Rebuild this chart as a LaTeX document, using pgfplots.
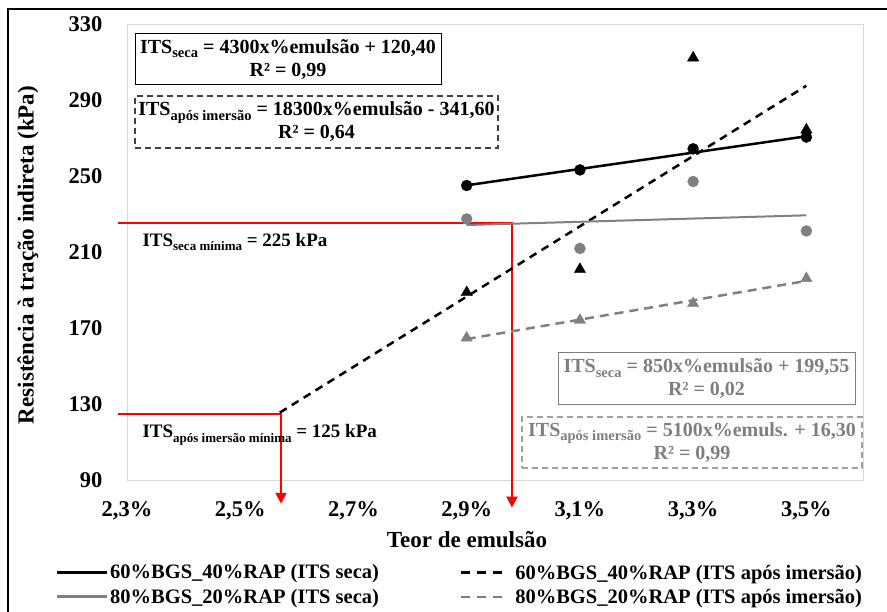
\documentclass[border=0pt]{standalone}
\usepackage{pgfplots}
\pgfplotsset{compat=1.18}
\usepackage{fontspec}
\setmainfont{Liberation Serif}
\usetikzlibrary{arrows.meta}
\definecolor{g1}{HTML}{808080}
\definecolor{g2}{HTML}{7F7F7F}
\definecolor{g3}{HTML}{A0A0A0}
\definecolor{dk}{HTML}{404040}
\definecolor{frame}{HTML}{D9D9D9}
\newcommand{\sub}[2][14.5]{\raisebox{-0.22em}{\fontsize{#1}{#1}\selectfont #2}}
\begin{document}
\begin{tikzpicture}[x=1pt,y=1pt]
\useasboundingbox (0,0) rectangle (887,611);
\fill[white] (0,0) rectangle (887,611);
\draw[black, line width=1.5pt] (8,-5) -- (8,602) -- (895,602);
\begin{axis}[
  at={(127pt,131pt)}, anchor=south west,
  scale only axis, width=736pt, height=456pt,
  xmin=2.3, xmax=3.6, ymin=90, ymax=330,
  xtick={2.3,2.5,2.7,2.9,3.1,3.3,3.5},
  xticklabels={{2,3\%},{2,5\%},{2,7\%},{2,9\%},{3,1\%},{3,3\%},{3,5\%}},
  ytick={90,130,170,210,250,290,330},
  axis line style={frame, line width=0.8pt},
  major tick length=0pt,
  tick label style={font=\fontsize{22.5}{24}\selectfont\bfseries},
  /pgf/number format/assume math mode=true,
  yticklabel style={xshift=-21pt},
  xticklabel style={yshift=-18pt},
  clip=false,
  legend columns=2,
  legend cell align=left,
  legend style={at={(axis description cs:-0.0978,-0.181)}, anchor=north west,
    draw=none, fill=none, inner sep=0pt, row sep=4.5pt,
    font=\fontsize{20.5}{22}\selectfont\bfseries,
    /tikz/every even column/.append style={column sep=79pt}},
]
\addlegendimage{legend image code/.code={\draw[black,line width=3pt](0pt,0pt)--(50pt,0pt);}}
\addlegendentry{60\%BGS\_40\%RAP (ITS seca)}
\addlegendimage{legend image code/.code={\draw[black,line width=2.5pt,dash pattern=on 9pt off 7pt](0pt,0pt)--(43pt,0pt);\path[draw=none] (0pt,0pt)--(52pt,0pt);}}
\addlegendentry{60\%BGS\_40\%RAP (ITS após imersão)}
\addlegendimage{legend image code/.code={\draw[g1,line width=3pt](0pt,0pt)--(50pt,0pt);}}
\addlegendentry{80\%BGS\_20\%RAP (ITS seca)}
\addlegendimage{legend image code/.code={\draw[g1,line width=2.5pt,dash pattern=on 9pt off 7pt](0pt,0pt)--(43pt,0pt);\path[draw=none] (0pt,0pt)--(52pt,0pt);}}
\addlegendentry{80\%BGS\_20\%RAP (ITS após imersão)}

% red limit lines
\addplot[forget plot, red, line width=2pt, -{Triangle[width=11pt,length=11pt]}]
  coordinates {(2.284,225) (2.980,225) (2.980,75.5)};
\addplot[forget plot, red, line width=2pt, -{Triangle[width=11pt,length=11pt]}]
  coordinates {(2.284,125) (2.572,125) (2.572,77.5)};

% trend lines
\addplot[forget plot, black, line width=2.5pt, no marks] coordinates {(2.9,245.1) (3.5,270.9)};
\addplot[forget plot, black, line width=2.5pt, no marks, dash pattern=on 8pt off 6pt] coordinates {(2.57,125.5) (3.5,297.5)};
\addplot[forget plot, g1, line width=2pt, no marks] coordinates {(2.9,224.2) (3.5,229.3)};
\addplot[forget plot, g1, line width=2.5pt, no marks, dash pattern=on 9pt off 6pt] coordinates {(2.9,164.2) (3.5,194.8)};

% data points
\addplot[forget plot, only marks, mark=*, mark size=5.5pt, g1, mark options={draw=g1, fill=g1}]
  coordinates {(2.9,227.4) (3.1,211.9) (3.3,247.1) (3.5,221.1)};
\addplot[forget plot, only marks, mark=triangle*, mark size=6.5pt, g1, mark options={draw=g1, fill=g1}]
  coordinates {(2.9,164.8) (3.1,174.1) (3.3,182.9) (3.5,196.1)};
\addplot[forget plot, only marks, mark=*, mark size=5.5pt, black]
  coordinates {(2.9,245.0) (3.1,253.2) (3.3,264.3) (3.5,270.5)};
\addplot[forget plot, only marks, mark=triangle*, mark size=6.5pt, black]
  coordinates {(2.9,188.7) (3.1,200.9) (3.3,312.2) (3.5,274.3)};
\end{axis}

\node[rotate=90, font=\fontsize{23}{24}\selectfont\bfseries] at (28,356) {Resistência à tração indireta (kPa)};
\node[font=\fontsize{23}{24}\selectfont\bfseries] at (467,71) {Teor de emulsão};

\node[draw=black, line width=1pt, minimum width=306pt, minimum height=51pt, inner sep=0pt, align=center,
  font=\fontsize{20}{23}\selectfont\bfseries] at (288,551.5)
  {ITS\sub{seca} = 4300x\%emulsão + 120,40\\R² = 0,99};
\node[draw=dk, line width=1.5pt, dash pattern=on 6pt off 4pt, minimum width=363pt, minimum height=52pt, inner sep=0pt, align=center,
  font=\fontsize{20}{23}\selectfont\bfseries] at (316.5,489)
  {ITS\sub{após imersão} = 18300x\%emulsão - 341,60\\R² = 0,64};
\node[draw=g2, line width=1pt, text=g2, minimum width=297pt, minimum height=52pt, inner sep=0pt, align=center,
  font=\fontsize{20}{23}\selectfont\bfseries] at (706.5,232)
  {ITS\sub{seca} = 850x\%emulsão + 199,55\\R² = 0,02};
\node[draw=g3, line width=1.5pt, dash pattern=on 6pt off 4pt, text=g2, minimum width=340pt, minimum height=51pt, inner sep=0pt, align=center,
  font=\fontsize{20}{23}\selectfont\bfseries] at (692,168.5)
  {ITS\sub{após imersão} = 5100x\%emuls. + 16,30\\R² = 0,99};

\node[anchor=base west, font=\fontsize{19}{20}\selectfont\bfseries] at (139,364.3) {ITS\sub[13]{seca mínima} = 225 kPa};
\node[anchor=base west, font=\fontsize{19}{20}\selectfont\bfseries] at (139,173) {ITS\sub[13]{após imersão mínima} = 125 kPa};
\end{tikzpicture}
\end{document}
